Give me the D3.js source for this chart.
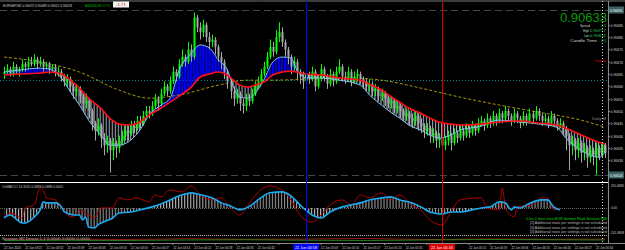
<!DOCTYPE html>
<html>
<head>
<meta charset="utf-8">
<script src="https://cdn.jsdelivr.net/npm/d3@7"></script>
<style>
body{margin:0;background:#000;}
svg{display:block;font-family:"Liberation Sans",Arial,sans-serif;}
</style>
</head>
<body>
<svg id="chart" width="625" height="250"></svg>
<script>
// EURGBP M1 candles: [open, high, low, close]
const candles = [
[0.90665,0.90668,0.90663,0.90666],[0.90666,0.90669,0.90665,0.90667],[0.90667,0.90668,0.90664,0.90665],[0.90665,0.90670,0.90664,0.90668],
[0.90668,0.90669,0.90665,0.90666],[0.90666,0.90668,0.90664,0.90667],[0.90667,0.90671,0.90666,0.90669],[0.90669,0.90670,0.90666,0.90668],
[0.90668,0.90672,0.90667,0.90670],[0.90670,0.90672,0.90668,0.90669],[0.90669,0.90673,0.90668,0.90671],[0.90671,0.90672,0.90667,0.90669],
[0.90669,0.90672,0.90668,0.90670],[0.90670,0.90671,0.90666,0.90668],[0.90668,0.90670,0.90667,0.90669],[0.90669,0.90670,0.90665,0.90667],
[0.90667,0.90669,0.90666,0.90668],[0.90668,0.90669,0.90664,0.90666],[0.90666,0.90668,0.90664,0.90666],[0.90666,0.90667,0.90662,0.90664],
[0.90664,0.90665,0.90660,0.90662],[0.90662,0.90665,0.90660,0.90663],[0.90663,0.90664,0.90658,0.90660],[0.90660,0.90661,0.90655,0.90658],
[0.90658,0.90661,0.90656,0.90659],[0.90659,0.90660,0.90653,0.90656],[0.90656,0.90657,0.90650,0.90653],[0.90653,0.90657,0.90651,0.90654],
[0.90654,0.90655,0.90647,0.90650],[0.90650,0.90651,0.90642,0.90645],[0.90645,0.90646,0.90638,0.90642],[0.90642,0.90647,0.90640,0.90644],
[0.90644,0.90645,0.90635,0.90639],[0.90639,0.90641,0.90632,0.90636],[0.90636,0.90640,0.90633,0.90638],[0.90638,0.90639,0.90625,0.90634],
[0.90634,0.90639,0.90630,0.90637],[0.90637,0.90638,0.90631,0.90635],[0.90635,0.90640,0.90633,0.90638],[0.90638,0.90642,0.90636,0.90640],
[0.90640,0.90644,0.90638,0.90642],[0.90642,0.90644,0.90638,0.90641],[0.90641,0.90646,0.90640,0.90644],[0.90644,0.90646,0.90641,0.90643],
[0.90643,0.90648,0.90642,0.90646],[0.90646,0.90648,0.90643,0.90645],[0.90645,0.90650,0.90644,0.90648],[0.90648,0.90652,0.90647,0.90650],
[0.90650,0.90652,0.90647,0.90649],[0.90649,0.90654,0.90648,0.90652],[0.90652,0.90657,0.90651,0.90655],[0.90655,0.90656,0.90650,0.90653],
[0.90653,0.90659,0.90652,0.90657],[0.90657,0.90662,0.90656,0.90660],[0.90660,0.90661,0.90656,0.90658],[0.90658,0.90664,0.90657,0.90662],
[0.90662,0.90668,0.90661,0.90666],[0.90666,0.90667,0.90662,0.90664],[0.90664,0.90671,0.90663,0.90669],[0.90669,0.90675,0.90668,0.90672],
[0.90672,0.90673,0.90668,0.90670],[0.90670,0.90678,0.90669,0.90675],[0.90675,0.90677,0.90670,0.90672],[0.90672,0.90690,0.90671,0.90688],
[0.90688,0.90689,0.90682,0.90684],[0.90684,0.90686,0.90679,0.90682],[0.90682,0.90687,0.90680,0.90685],[0.90685,0.90686,0.90678,0.90680],
[0.90680,0.90682,0.90675,0.90678],[0.90678,0.90681,0.90676,0.90679],[0.90679,0.90680,0.90673,0.90676],[0.90676,0.90677,0.90670,0.90672],
[0.90672,0.90674,0.90667,0.90670],[0.90670,0.90671,0.90663,0.90666],[0.90666,0.90667,0.90659,0.90662],[0.90662,0.90663,0.90655,0.90658],
[0.90658,0.90660,0.90652,0.90655],[0.90655,0.90659,0.90653,0.90657],[0.90657,0.90658,0.90650,0.90653],[0.90653,0.90655,0.90649,0.90652],
[0.90652,0.90657,0.90650,0.90655],[0.90655,0.90657,0.90652,0.90654],[0.90654,0.90659,0.90653,0.90657],[0.90657,0.90662,0.90656,0.90660],
[0.90660,0.90664,0.90659,0.90662],[0.90662,0.90667,0.90661,0.90665],[0.90665,0.90670,0.90664,0.90668],[0.90668,0.90674,0.90667,0.90672],
[0.90672,0.90679,0.90671,0.90676],[0.90676,0.90678,0.90672,0.90674],[0.90674,0.90683,0.90673,0.90680],[0.90680,0.90686,0.90678,0.90682],
[0.90682,0.90684,0.90676,0.90678],[0.90678,0.90679,0.90672,0.90675],[0.90675,0.90676,0.90669,0.90672],[0.90672,0.90673,0.90665,0.90668],
[0.90668,0.90672,0.90666,0.90670],[0.90670,0.90671,0.90663,0.90666],[0.90666,0.90667,0.90661,0.90664],[0.90664,0.90666,0.90659,0.90662],
[0.90662,0.90667,0.90661,0.90665],[0.90665,0.90666,0.90661,0.90663],[0.90663,0.90668,0.90662,0.90666],[0.90666,0.90667,0.90658,0.90660],
[0.90660,0.90665,0.90659,0.90663],[0.90663,0.90669,0.90662,0.90667],[0.90667,0.90668,0.90662,0.90664],[0.90664,0.90665,0.90659,0.90661],
[0.90661,0.90667,0.90660,0.90665],[0.90665,0.90666,0.90660,0.90662],[0.90662,0.90668,0.90661,0.90666],[0.90666,0.90671,0.90665,0.90668],
[0.90668,0.90669,0.90662,0.90664],[0.90664,0.90666,0.90661,0.90663],[0.90663,0.90668,0.90662,0.90666],[0.90666,0.90667,0.90660,0.90662],
[0.90662,0.90666,0.90661,0.90664],[0.90664,0.90667,0.90662,0.90665],[0.90665,0.90666,0.90661,0.90663],[0.90663,0.90664,0.90659,0.90662],
[0.90662,0.90663,0.90658,0.90660],[0.90660,0.90663,0.90658,0.90661],[0.90661,0.90662,0.90656,0.90658],[0.90658,0.90661,0.90656,0.90659],
[0.90659,0.90660,0.90654,0.90656],[0.90656,0.90659,0.90654,0.90657],[0.90657,0.90658,0.90652,0.90655],[0.90655,0.90656,0.90651,0.90653],
[0.90653,0.90656,0.90651,0.90654],[0.90654,0.90655,0.90649,0.90651],[0.90651,0.90654,0.90649,0.90652],[0.90652,0.90653,0.90647,0.90650],
[0.90650,0.90651,0.90646,0.90648],[0.90648,0.90651,0.90646,0.90649],[0.90649,0.90650,0.90644,0.90647],[0.90647,0.90649,0.90643,0.90646],
[0.90646,0.90650,0.90644,0.90648],[0.90648,0.90649,0.90642,0.90645],[0.90645,0.90647,0.90641,0.90644],[0.90644,0.90645,0.90639,0.90642],
[0.90642,0.90645,0.90640,0.90643],[0.90643,0.90644,0.90637,0.90640],[0.90640,0.90643,0.90637,0.90641],[0.90641,0.90642,0.90635,0.90638],
[0.90638,0.90641,0.90635,0.90639],[0.90639,0.90640,0.90632,0.90636],[0.90636,0.90640,0.90634,0.90638],[0.90638,0.90642,0.90636,0.90640],
[0.90640,0.90641,0.90634,0.90637],[0.90637,0.90643,0.90636,0.90641],[0.90641,0.90642,0.90637,0.90639],[0.90639,0.90644,0.90638,0.90642],
[0.90642,0.90643,0.90638,0.90640],[0.90640,0.90645,0.90639,0.90643],[0.90643,0.90644,0.90639,0.90641],[0.90641,0.90646,0.90640,0.90644],
[0.90644,0.90645,0.90640,0.90642],[0.90642,0.90647,0.90641,0.90645],[0.90645,0.90648,0.90644,0.90646],[0.90646,0.90647,0.90642,0.90644],
[0.90644,0.90649,0.90643,0.90647],[0.90647,0.90648,0.90643,0.90645],[0.90645,0.90650,0.90644,0.90648],[0.90648,0.90649,0.90644,0.90646],
[0.90646,0.90651,0.90645,0.90649],[0.90649,0.90650,0.90645,0.90647],[0.90647,0.90652,0.90646,0.90650],[0.90650,0.90651,0.90646,0.90648],
[0.90648,0.90649,0.90644,0.90646],[0.90646,0.90651,0.90645,0.90649],[0.90649,0.90650,0.90645,0.90647],[0.90647,0.90648,0.90643,0.90645],
[0.90645,0.90650,0.90644,0.90648],[0.90648,0.90649,0.90644,0.90646],[0.90646,0.90651,0.90645,0.90649],[0.90649,0.90650,0.90645,0.90647],
[0.90647,0.90652,0.90646,0.90650],[0.90650,0.90651,0.90646,0.90648],[0.90648,0.90649,0.90644,0.90646],[0.90646,0.90649,0.90645,0.90647],
[0.90647,0.90648,0.90643,0.90645],[0.90645,0.90650,0.90644,0.90648],[0.90648,0.90649,0.90644,0.90646],[0.90646,0.90647,0.90642,0.90644],
[0.90644,0.90647,0.90643,0.90645],[0.90645,0.90646,0.90640,0.90643],[0.90643,0.90644,0.90634,0.90640],[0.90640,0.90641,0.90626,0.90636],
[0.90636,0.90640,0.90632,0.90638],[0.90638,0.90639,0.90630,0.90634],[0.90634,0.90639,0.90631,0.90637],[0.90637,0.90638,0.90629,0.90633],
[0.90633,0.90637,0.90630,0.90635],[0.90635,0.90636,0.90627,0.90631],[0.90631,0.90636,0.90629,0.90634],[0.90634,0.90635,0.90628,0.90632],
[0.90632,0.90637,0.90624,0.90635],[0.90635,0.90636,0.90630,0.90633],[0.90633,0.90637,0.90631,0.90636],[0.90636,0.90637,0.90631,0.90633]
];

// moving averages (sampled at bar indices)
const maBars = [0,5,12,15,19,22,25,28,32,35,38,42,45,48,52,55,58,62,65,68,71,74,76,78,81,84,86,89,92,95,97,100,105,111,118,121,125,128,131,134,138,141,144,148,151,154,158,161,164,171,177,183,186,192,197,199];
const maFast = [0.906658,0.906666,0.906674,0.906670,0.906634,0.906577,0.906524,0.906463,0.906402,0.906361,0.906361,0.906382,0.906422,0.906483,0.906524,0.906552,0.906666,0.906735,0.906768,0.906756,0.906707,0.906666,0.906597,0.906556,0.906552,0.906585,0.906625,0.906699,0.906719,0.906715,0.906666,0.906634,0.906634,0.906625,0.906605,0.906565,0.906524,0.906495,0.906471,0.906443,0.906422,0.906402,0.906390,0.906402,0.906422,0.906430,0.906438,0.906455,0.906463,0.906455,0.906447,0.906434,0.906390,0.906333,0.906312,0.906333];
const maSlow = [0.906646,0.906650,0.906654,0.906658,0.906650,0.906625,0.906593,0.906552,0.906512,0.906471,0.906447,0.906443,0.906455,0.906483,0.906512,0.906536,0.906560,0.906597,0.906638,0.906650,0.906658,0.906646,0.906625,0.906605,0.906597,0.906609,0.906617,0.906646,0.906658,0.906662,0.906658,0.906650,0.906646,0.906634,0.906625,0.906609,0.906585,0.906560,0.906536,0.906512,0.906491,0.906471,0.906455,0.906447,0.906443,0.906443,0.906447,0.906451,0.906455,0.906459,0.906451,0.906443,0.906430,0.906398,0.906373,0.906365];
const trendBars = [0,12,25,38,48,58,71,80,87,115,125,138,151,164,177,191,199];
const maTrend = [0.906719,0.906699,0.906658,0.906585,0.906552,0.906565,0.906605,0.906625,0.906625,0.906634,0.906625,0.906593,0.906556,0.906524,0.906495,0.906463,0.906434];

// OsMA / CCI sub window
const oscBars = [0,2,6,7,10,12,13,14,17,19,20,23,25,26,27,28,30,31,33,36,38,42,45,49,52,55,59,62,65,69,72,75,78,82,85,88,92,95,98,102,105,108,112,115,118,121,125,128,131,135,138,141,145,148,151,155,158,161,164,166,168,169,171,173,178,180,182,184];
const oscValues = [-105,-74,-158,-158,-95,-21,63,53,53,11,-42,-74,-74,-126,-95,-200,-210,-179,-147,-105,-53,-42,-21,11,42,84,137,158,137,105,53,21,-21,32,105,158,168,126,32,-74,-105,-42,11,32,53,84,105,116,84,53,11,-42,-63,-42,-42,-21,0,11,63,53,-21,11,0,32,84,84,11,-21];
const cciBars = [0,2,6,7,10,12,13,14,17,19,21,23,25,28,30,32,36,38,41,44,48,50,52,55,59,62,65,69,72,75,78,82,85,88,92,95,98,102,105,108,112,115,118,121,125,128,131,135,138,141,145,148,151,158,160,164,165,166,167,169,170,175,178,180,182,184];
const cciValues = [-105,-53,-105,0,32,210,189,105,84,0,-74,-95,-21,-74,-105,0,0,105,84,105,63,137,116,189,168,231,137,84,105,0,-74,84,189,231,189,84,-74,-147,-74,32,84,32,137,105,158,84,137,32,-21,-126,-179,-42,84,105,0,-21,210,11,-53,-95,11,32,105,105,-21,0];
const oscMax = 250.4685, oscMin = -241.4808;

// session strip
const sessionBars = [0,20,40,60,80,100,120,140,160,180,199];
const sessionRed = [0.55,0.6,0.5,0.65,0.55,0.6,0.7,0.5,0.6,0.55,0.6];
const sessionGreen = [0.3,0.35,0.3,0.4,0.45,0.35,0.3,0.4,0.5,0.45,0.4];

// levels
const dayHigh = 0.90691, dayLow = 0.90624, pivotLevel = 0.906625;
const priceTicks = [0.90685,0.90680,0.90675,0.90670,0.90665,0.90660,0.90655,0.90650,0.90645,0.90640,0.90635,0.90630];
const markerBars = [100, 145];
const markerTimes = ["22 Jun 04:58", "22 Jun 05:43"];
const nowBar = 198;
const timeLabels = ["22 Jun 2020","22 Jun 03:25","22 Jun 03:32","22 Jun 03:39","22 Jun 03:46","22 Jun 03:53","22 Jun 04:00","22 Jun 04:07","22 Jun 04:14","22 Jun 04:21","22 Jun 04:28","22 Jun 04:35","22 Jun 04:42","22 Jun 04:49","22 Jun 04:56","22 Jun 05:03","22 Jun 05:10","22 Jun 05:17","22 Jun 05:24","22 Jun 05:31","22 Jun 05:38","22 Jun 05:45","22 Jun 05:52","22 Jun 05:59","22 Jun 06:06","22 Jun 06:13","22 Jun 06:20","22 Jun 06:27","22 Jun 06:34"];
const newsLines = ["5 hrs 2 mins since EUR German Flash Services PMI","[2]  Additional news per settings is not scheduled","[3]  Additional news per settings is not scheduled","[4]  Additional news per settings is not scheduled"];

const svg = d3.select('#chart');
const axisX = 608;

svg.append('rect').attr('width',625).attr('height',250).attr('fill','#000');

let x = d3.scaleLinear().domain([0,199]).range([4,605]);
let yP = d3.scaleLinear().domain([dayLow,dayHigh]).range([175,10]);
let yO = d3.scaleLinear().domain([oscMin,oscMax]).range([231,184]);
let yS = d3.scaleLinear().domain([0,1]).range([242,237]);

// squeeze a text into a given pixel width
function fit(sel, w){
  return sel.attr('textLength',w).attr('lengthAdjust','spacingAndGlyphs');
}

// stripe patterns for the filled bands
let defs = svg.append('defs');
function stripes(id, color, w){
  defs.append('pattern').attr('id',id).attr('patternUnits','userSpaceOnUse')
    .attr('width',3.02).attr('height',20)
    .append('rect').attr('x',0).attr('y',0).attr('width',w).attr('height',20).attr('fill',color);
}
stripes('blueStripe','#0000ff',2.2);
stripes('grayStripe','#b8c4d8',1);
stripes('histStripe','#b0b0b0',1);

defs.append('clipPath').attr('id','mainClip').append('rect').attr('x',0).attr('y',2).attr('width',axisX).attr('height',179);

// frame lines
svg.append('line').attr('x1',0).attr('x2',625).attr('y1',1).attr('y2',1).attr('stroke','#777');
svg.append('line').attr('x1',axisX+0.5).attr('x2',axisX+0.5).attr('y1',1).attr('y2',243).attr('stroke','#888');

let main = svg.append('g').attr('clip-path','url(#mainClip)');

// day high / low dashed lines
[dayHigh, dayLow].forEach(function(p){
  main.append('line').attr('x1',0).attr('x2',axisX).attr('y1',Math.round(yP(p))+0.5).attr('y2',Math.round(yP(p))+0.5)
    .attr('stroke','#3c4a4a').attr('stroke-dasharray','7,4');
});
// pivot dotted line
main.append('line').attr('x1',0).attr('x2',axisX).attr('y1',Math.round(yP(pivotLevel))+0.5).attr('y2',Math.round(yP(pivotLevel))+0.5)
  .attr('stroke','#008b8b').attr('stroke-dasharray','1,2');

// band between fast and slow averages
let maData = maBars.map(function(b,i){ return {bar:b, fast:maFast[i], slow:maSlow[i]}; });
main.append('path').datum(maData)
  .attr('d', d3.area().curve(d3.curveMonotoneX).x(d=>x(d.bar)).y0(d=>yP(d.slow)).y1(d=>yP(Math.max(d.fast,d.slow))))
  .attr('fill','url(#blueStripe)');
main.append('path').datum(maData)
  .attr('d', d3.area().curve(d3.curveMonotoneX).x(d=>x(d.bar)).y0(d=>yP(d.slow)).y1(d=>yP(Math.min(d.fast,d.slow))))
  .attr('fill','url(#grayStripe)');

// long trend average, dashed olive
main.append('path').datum(trendBars.map((b,i)=>({bar:b, v:maTrend[i]})))
  .attr('d', d3.line().curve(d3.curveMonotoneX).x(d=>x(d.bar)).y(d=>yP(d.v)))
  .attr('fill','none').attr('stroke','#a8980a').attr('stroke-dasharray','3,2');

// candles
let cg = main.append('g').selectAll('g').data(candles).enter().append('g');
cg.append('line')
  .attr('x1',(d,i)=>Math.round(x(i))+0.5).attr('x2',(d,i)=>Math.round(x(i))+0.5)
  .attr('y1',d=>yP(d[1])).attr('y2',d=>yP(d[2]))
  .attr('stroke',d=>d[3]>=d[0]?'#00ff00':'#a8a8a8');
cg.append('rect')
  .attr('x',(d,i)=>Math.round(x(i))-0.5).attr('width',2)
  .attr('y',d=>yP(Math.max(d[0],d[3])))
  .attr('height',d=>Math.max(1,Math.abs(yP(d[0])-yP(d[3]))))
  .attr('fill',d=>d[3]>=d[0]?'#00ff00':'#a8a8a8');

// fast edge (light blue) and slow average (red)
main.append('path').datum(maData)
  .attr('d', d3.line().curve(d3.curveMonotoneX).x(d=>x(d.bar)).y(d=>yP(d.fast)))
  .attr('fill','none').attr('stroke','#7fc8f0').attr('stroke-width',1);
main.append('path').datum(maData)
  .attr('d', d3.line().curve(d3.curveMonotoneX).x(d=>x(d.bar)).y(d=>yP(d.slow)))
  .attr('fill','none').attr('stroke','#ff1010').attr('stroke-width',1.6);

// price axis
let pa = svg.append('g').attr('font-size','3.6px').attr('fill','#d8d8d8');
priceTicks.forEach(function(p){
  let yy = Math.round(yP(p))+0.5;
  pa.append('line').attr('x1',axisX).attr('x2',axisX+2).attr('y1',yy).attr('y2',yy).attr('stroke','#888');
  fit(pa.append('text').attr('x',axisX+2.5).attr('y',yy+1.5).text(p.toFixed(5)), 12.5);
});
[dayHigh, dayLow].forEach(function(p){
  let yy = yP(p);
  pa.append('rect').attr('x',axisX+1).attr('y',yy-3.5).attr('width',15).attr('height',7).attr('fill','#3a6262');
  fit(pa.append('text').attr('x',axisX+2).attr('y',yy+1.5).attr('fill','#fff').text(p.toFixed(5)), 12.5);
});

// header texts
let hd = svg.append('g').attr('font-size','3.4px');
fit(hd.append('text').attr('x',3).attr('y',6.5).attr('fill','#d0d0d0').text('EURGBP,M1  0.90637 0.90689 0.90612 0.90633'), 69);
fit(hd.append('text').attr('x',85).attr('y',6.5).attr('font-size','3.2px').attr('fill','#00c000').text('AUDUSD,H1  71.71'), 25);
hd.append('rect').attr('x',113).attr('y',1.5).attr('width',16).attr('height',6).attr('fill','#f4f4f4');
fit(hd.append('text').attr('x',116).attr('y',6).attr('fill','#e02020').text('-1.71'), 10);

// big price and info block
let info = svg.append('g').attr('font-size','4px');
fit(info.append('text').attr('x',560).attr('y',21.5).attr('font-size','13px').attr('fill','#0a9a0a').text('0.90633'), 47);
[['Spread',580,10,'2.5',601,5,27],['High',583,6,'0.90717',590,16,32],['Low',584,5,'0.90611',590,16,37],['Candle Time',570,27,'2:5',601,5,42]].forEach(function(r){
  fit(info.append('text').attr('x',r[1]).attr('y',r[6]).attr('fill','#d0d0d0').text(r[0]), r[2]);
  fit(info.append('text').attr('x',r[4]).attr('y',r[6]).attr('fill','#22cc55').text(r[3]), r[5]);
});
fit(info.append('text').attr('x',595).attr('y',62).attr('font-size','3px').attr('fill','#dd1010').text('Daily 3b'), 11);
fit(info.append('text').attr('x',592).attr('y',120).attr('fill','#909090').text('Daily M'), 14);

// separators
svg.append('line').attr('x1',0).attr('x2',axisX).attr('y1',182.5).attr('y2',182.5).attr('stroke','#fff').attr('stroke-width',1.2);
svg.append('line').attr('x1',0).attr('x2',axisX).attr('y1',235.5).attr('y2',235.5).attr('stroke','#bbb').attr('stroke-dasharray','1,1');

// oscillator panel
let og = svg.append('g');
let oscData = oscBars.map((b,i)=>({bar:b, v:oscValues[i]}));
og.append('path').datum(oscData)
  .attr('d', d3.area().curve(d3.curveMonotoneX).x(d=>x(d.bar)).y0(yO(0)).y1(d=>yO(d.v)))
  .attr('fill','url(#histStripe)');
og.append('line').attr('x1',0).attr('x2',axisX).attr('y1',Math.round(yO(0))+0.5).attr('y2',Math.round(yO(0))+0.5).attr('stroke','#666').attr('stroke-dasharray','1,1');
og.append('path').datum(cciBars.map((b,i)=>({bar:b, v:cciValues[i]})))
  .attr('d', d3.line().curve(d3.curveMonotoneX).x(d=>x(d.bar)).y(d=>yO(d.v)))
  .attr('fill','none').attr('stroke','#b00000').attr('stroke-width',1);
og.append('path').datum(oscData)
  .attr('d', d3.line().curve(d3.curveMonotoneX).x(d=>x(d.bar)).y(d=>yO(d.v)))
  .attr('fill','none').attr('stroke','#1aa8f0').attr('stroke-width',1.6);
fit(og.append('text').attr('x',2).attr('y',188).attr('font-size','3.4px').attr('fill','#c0c0c0')
  .text('OsMA/CCI 14.3345 0.0888 0.0888 0.0000'), 61);
og.selectAll('.news').data(newsLines).enter().append('text')
  .attr('x',(d,i)=>i===0?526:530).attr('y',(d,i)=>219.5+i*4.6).attr('font-size','3.3px')
  .attr('textLength',(d,i)=>i===0?81:77).attr('lengthAdjust','spacingAndGlyphs')
  .attr('fill',(d,i)=>i===0?'#00dd00':'#b8b8b8').text(d=>d);
[[oscMax,187,13],[0,yO(0)+1.5,6],[oscMin,233.5,14]].forEach(function(r){
  fit(og.append('text').attr('x',r[0]<0?610:611).attr('y',r[1]).attr('font-size','3.2px').attr('fill','#d0d0d0')
    .text(r[0]===0?'0.00':r[0].toFixed(4)), r[2]);
});

// session strip
let sg = svg.append('g');
[[sessionRed,'#c02020'],[sessionGreen,'#20a020']].forEach(function(s){
  sg.append('path').datum(sessionBars.map((b,i)=>({bar:b, v:s[0][i]})))
    .attr('d', d3.line().x(d=>x(d.bar)).y(d=>yS(d.v)))
    .attr('fill','none').attr('stroke',s[1]).attr('stroke-width',0.8);
});
fit(sg.append('text').attr('x',2).attr('y',239.5).attr('font-size','3.6px').attr('fill','#b0b0b0')
  .text('Session W/ Deviat 1.1  0.0000  0.0000  0.0000'), 88);

// vertical markers
let markerColors = ['#0000ff','#dd0000'];
markerBars.forEach(function(b,i){
  let xx = Math.round(x(b))+0.5;
  svg.append('line').attr('x1',xx).attr('x2',xx).attr('y1',1).attr('y2',243).attr('stroke',markerColors[i]);
});
svg.append('line').attr('x1',Math.round(x(nowBar))+0.5).attr('x2',Math.round(x(nowBar))+0.5).attr('y1',1).attr('y2',243)
  .attr('stroke','#ddd').attr('stroke-dasharray','1,2');

// time axis
svg.append('line').attr('x1',0).attr('x2',625).attr('y1',243.5).attr('y2',243.5).attr('stroke','#888');
let ta = svg.append('g').attr('font-size','3.4px').attr('fill','#d0d0d0');
timeLabels.forEach(function(t,i){
  let xx = x(i*7);
  ta.append('line').attr('x1',xx).attr('x2',xx).attr('y1',243).attr('y2',245).attr('stroke','#888');
  let near = markerBars.some(b=>Math.abs(x(b)-xx-9)<22);
  if(!near) fit(ta.append('text').attr('x',xx).attr('y',248.5).text(t), 17);
});
markerBars.forEach(function(b,i){
  let xx = x(b);
  ta.append('rect').attr('x',xx-13).attr('y',244).attr('width',26).attr('height',6).attr('fill',markerColors[i]);
  fit(ta.append('text').attr('x',xx-11).attr('y',248.5).attr('fill','#fff').text(markerTimes[i]), 22);
});
</script>
</body>
</html>
